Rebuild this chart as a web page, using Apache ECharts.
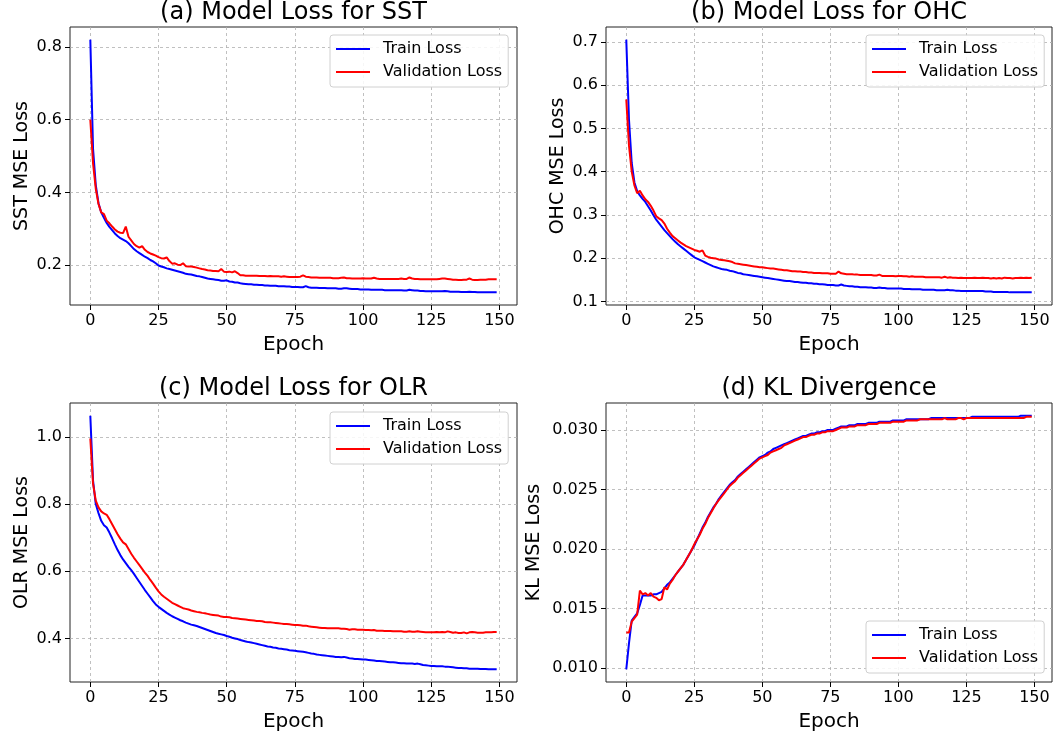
<!DOCTYPE html>
<html>
<head>
<meta charset="utf-8">
<script src="https://cdn.jsdelivr.net/npm/echarts@6/dist/echarts.min.js"></script>
<style>
  html, body { margin: 0; padding: 0; background: #fff; }
  #chart { width: 1057px; height: 734px; }
</style>
</head>
<body>
<div id="chart"></div>
<script>
const epochTicks = [0, 25, 50, 75, 100, 125, 150];

const sstTrain = [
  0.820, 0.520, 0.420, 0.370, 0.345, 0.330, 0.316, 0.305, 0.296, 0.287,
  0.280, 0.274, 0.270, 0.266, 0.260, 0.252, 0.244, 0.238, 0.233, 0.228,
  0.223, 0.219, 0.214, 0.210, 0.205, 0.199, 0.196, 0.194, 0.191, 0.189,
  0.187, 0.185, 0.183, 0.181, 0.179, 0.176, 0.175, 0.174, 0.172, 0.170,
  0.169, 0.167, 0.165, 0.163, 0.162, 0.161, 0.160, 0.159, 0.157, 0.157,
  0.158, 0.155, 0.154, 0.152, 0.152, 0.150, 0.149, 0.148, 0.147, 0.147,
  0.146, 0.146, 0.145, 0.145, 0.144, 0.144, 0.143, 0.143, 0.143, 0.142,
  0.142, 0.142, 0.141, 0.141, 0.140, 0.140, 0.140, 0.139, 0.139, 0.142,
  0.139, 0.138, 0.138, 0.138, 0.137, 0.137, 0.137, 0.136, 0.136, 0.136,
  0.136, 0.135, 0.135, 0.136, 0.136, 0.135, 0.134, 0.134, 0.134, 0.133,
  0.133, 0.133, 0.133, 0.132, 0.132, 0.132, 0.132, 0.132, 0.131, 0.131,
  0.131, 0.131, 0.131, 0.131, 0.131, 0.130, 0.130, 0.132, 0.131, 0.130,
  0.130, 0.129, 0.129, 0.128, 0.128, 0.128, 0.128, 0.128, 0.128, 0.128,
  0.129, 0.128, 0.127, 0.127, 0.127, 0.127, 0.126, 0.126, 0.126, 0.127,
  0.126, 0.126, 0.125, 0.125, 0.125, 0.125, 0.125, 0.125, 0.125, 0.125,
];
const sstVal = [
  0.600, 0.480, 0.410, 0.368, 0.345, 0.340, 0.322, 0.315, 0.306, 0.298,
  0.292, 0.289, 0.288, 0.306, 0.278, 0.268, 0.258, 0.252, 0.248, 0.252,
  0.242, 0.236, 0.232, 0.229, 0.226, 0.222, 0.219, 0.218, 0.221, 0.211,
  0.204, 0.205, 0.201, 0.200, 0.205, 0.197, 0.196, 0.196, 0.195, 0.193,
  0.191, 0.189, 0.188, 0.186, 0.185, 0.184, 0.184, 0.183, 0.189, 0.182,
  0.181, 0.182, 0.180, 0.183, 0.178, 0.172, 0.172, 0.171, 0.171, 0.171,
  0.171, 0.171, 0.170, 0.170, 0.170, 0.169, 0.170, 0.169, 0.169, 0.169,
  0.168, 0.169, 0.168, 0.167, 0.167, 0.167, 0.167, 0.168, 0.172, 0.168,
  0.167, 0.166, 0.166, 0.166, 0.165, 0.165, 0.165, 0.165, 0.165, 0.164,
  0.164, 0.164, 0.165, 0.166, 0.164, 0.164, 0.163, 0.163, 0.163, 0.163,
  0.164, 0.163, 0.163, 0.163, 0.165, 0.163, 0.162, 0.162, 0.162, 0.162,
  0.162, 0.162, 0.162, 0.162, 0.163, 0.162, 0.162, 0.166, 0.163, 0.162,
  0.162, 0.161, 0.161, 0.161, 0.161, 0.161, 0.161, 0.161, 0.162, 0.163,
  0.163, 0.162, 0.161, 0.160, 0.160, 0.159, 0.159, 0.160, 0.160, 0.163,
  0.160, 0.159, 0.159, 0.160, 0.160, 0.160, 0.161, 0.161, 0.161, 0.161,
];

const ohcTrain = [
  0.705, 0.520, 0.420, 0.375, 0.355, 0.345, 0.337, 0.330, 0.320, 0.310,
  0.299, 0.289, 0.281, 0.273, 0.265, 0.258, 0.251, 0.244, 0.238, 0.232,
  0.227, 0.222, 0.217, 0.212, 0.207, 0.202, 0.199, 0.196, 0.193, 0.190,
  0.187, 0.184, 0.181, 0.179, 0.177, 0.175, 0.174, 0.173, 0.171, 0.170,
  0.168, 0.166, 0.165, 0.163, 0.162, 0.161, 0.160, 0.159, 0.158, 0.157,
  0.156, 0.155, 0.154, 0.153, 0.152, 0.151, 0.150, 0.149, 0.148, 0.147,
  0.147, 0.146, 0.145, 0.145, 0.144, 0.143, 0.143, 0.142, 0.142, 0.141,
  0.141, 0.140, 0.140, 0.139, 0.138, 0.138, 0.138, 0.137, 0.137, 0.139,
  0.137, 0.136, 0.135, 0.135, 0.134, 0.134, 0.133, 0.133, 0.133, 0.132,
  0.132, 0.131, 0.131, 0.132, 0.131, 0.131, 0.130, 0.130, 0.130, 0.130,
  0.130, 0.130, 0.129, 0.129, 0.129, 0.128, 0.128, 0.128, 0.128, 0.127,
  0.127, 0.127, 0.127, 0.127, 0.126, 0.126, 0.126, 0.126, 0.127, 0.126,
  0.126, 0.125, 0.125, 0.124, 0.124, 0.124, 0.124, 0.124, 0.124, 0.124,
  0.124, 0.124, 0.123, 0.123, 0.123, 0.122, 0.122, 0.122, 0.122, 0.122,
  0.122, 0.121, 0.121, 0.121, 0.121, 0.121, 0.121, 0.121, 0.121, 0.121,
];
const ohcVal = [
  0.567, 0.460, 0.400, 0.368, 0.350, 0.356, 0.345, 0.336, 0.330, 0.321,
  0.310, 0.297, 0.292, 0.288, 0.280, 0.268, 0.259, 0.251, 0.246, 0.241,
  0.236, 0.232, 0.228, 0.225, 0.222, 0.219, 0.217, 0.215, 0.218, 0.206,
  0.203, 0.201, 0.200, 0.199, 0.197, 0.196, 0.195, 0.194, 0.193, 0.191,
  0.188, 0.187, 0.186, 0.185, 0.184, 0.183, 0.182, 0.181, 0.180, 0.179,
  0.179, 0.178, 0.177, 0.176, 0.176, 0.175, 0.174, 0.173, 0.172, 0.172,
  0.171, 0.170, 0.170, 0.169, 0.169, 0.168, 0.168, 0.167, 0.167, 0.166,
  0.166, 0.166, 0.165, 0.165, 0.165, 0.164, 0.164, 0.164, 0.169, 0.165,
  0.164, 0.163, 0.163, 0.163, 0.162, 0.162, 0.161, 0.161, 0.161, 0.161,
  0.161, 0.160, 0.160, 0.162, 0.159, 0.159, 0.159, 0.159, 0.159, 0.158,
  0.159, 0.159, 0.158, 0.158, 0.157, 0.158, 0.157, 0.157, 0.157, 0.157,
  0.156, 0.156, 0.156, 0.156, 0.156, 0.156, 0.155, 0.157, 0.155, 0.156,
  0.155, 0.155, 0.154, 0.155, 0.154, 0.154, 0.154, 0.154, 0.155, 0.154,
  0.154, 0.155, 0.154, 0.154, 0.153, 0.154, 0.153, 0.154, 0.153, 0.155,
  0.154, 0.154, 0.153, 0.154, 0.154, 0.155, 0.154, 0.155, 0.154, 0.155,
];

const olrTrain = [
  1.063, 0.870, 0.800, 0.773, 0.750, 0.737, 0.730, 0.715, 0.698, 0.680,
  0.663, 0.648, 0.635, 0.624, 0.613, 0.603, 0.592, 0.580, 0.568, 0.556,
  0.544, 0.533, 0.522, 0.511, 0.501, 0.494, 0.488, 0.482, 0.476, 0.471,
  0.466, 0.462, 0.458, 0.454, 0.451, 0.447, 0.444, 0.441, 0.439, 0.437,
  0.434, 0.431, 0.428, 0.425, 0.422, 0.419, 0.416, 0.414, 0.412, 0.410,
  0.407, 0.405, 0.402, 0.400, 0.398, 0.395, 0.393, 0.391, 0.389, 0.388,
  0.386, 0.384, 0.382, 0.380, 0.378, 0.376, 0.375, 0.373, 0.372, 0.370,
  0.369, 0.368, 0.367, 0.365, 0.364, 0.363, 0.362, 0.361, 0.360, 0.359,
  0.357, 0.355, 0.354, 0.352, 0.351, 0.350, 0.349, 0.348, 0.347, 0.346,
  0.345, 0.345, 0.344, 0.345, 0.343, 0.341, 0.340, 0.339, 0.339, 0.338,
  0.337, 0.337, 0.336, 0.335, 0.334, 0.333, 0.333, 0.332, 0.331, 0.330,
  0.329, 0.329, 0.328, 0.327, 0.326, 0.326, 0.325, 0.325, 0.325, 0.324,
  0.325, 0.323, 0.321, 0.320, 0.319, 0.318, 0.318, 0.317, 0.317, 0.317,
  0.316, 0.316, 0.315, 0.314, 0.313, 0.312, 0.312, 0.311, 0.311, 0.310,
  0.310, 0.310, 0.310, 0.309, 0.309, 0.309, 0.308, 0.308, 0.308, 0.308,
];
const olrVal = [
  0.995, 0.860, 0.810, 0.790, 0.778, 0.772, 0.768, 0.755, 0.740, 0.725,
  0.710, 0.697, 0.686, 0.680, 0.666, 0.652, 0.640, 0.629, 0.618, 0.607,
  0.596, 0.586, 0.574, 0.563, 0.551, 0.540, 0.531, 0.524, 0.518, 0.512,
  0.506, 0.502, 0.498, 0.494, 0.490, 0.488, 0.486, 0.483, 0.481, 0.479,
  0.478, 0.476, 0.475, 0.473, 0.471, 0.470, 0.469, 0.468, 0.465, 0.464,
  0.464, 0.463, 0.461, 0.460, 0.459, 0.458, 0.457, 0.456, 0.455, 0.454,
  0.453, 0.452, 0.452, 0.451, 0.449, 0.448, 0.448, 0.447, 0.446, 0.445,
  0.444, 0.443, 0.443, 0.442, 0.441, 0.440, 0.440, 0.439, 0.438, 0.438,
  0.436, 0.435, 0.434, 0.433, 0.432, 0.431, 0.431, 0.430, 0.430, 0.430,
  0.430, 0.430, 0.429, 0.429, 0.428, 0.426, 0.427, 0.427, 0.426, 0.426,
  0.426, 0.425, 0.425, 0.424, 0.425, 0.423, 0.423, 0.423, 0.422, 0.422,
  0.422, 0.421, 0.421, 0.421, 0.421, 0.420, 0.420, 0.421, 0.420, 0.420,
  0.421, 0.420, 0.419, 0.418, 0.418, 0.418, 0.418, 0.419, 0.418, 0.419,
  0.418, 0.421, 0.419, 0.417, 0.418, 0.416, 0.416, 0.418, 0.415, 0.418,
  0.419, 0.418, 0.417, 0.417, 0.417, 0.418, 0.418, 0.418, 0.419, 0.419,
];

const klTrain = [
  0.0099, 0.0121, 0.0140, 0.0143, 0.0146, 0.0153, 0.0161, 0.0161, 0.0161, 0.0161,
  0.0162, 0.0162, 0.0163, 0.0164, 0.0167, 0.0170, 0.0172, 0.0175, 0.0178, 0.0181,
  0.0184, 0.0187, 0.0191, 0.0195, 0.0199, 0.0203, 0.0208, 0.0213, 0.0218, 0.0222,
  0.0227, 0.0231, 0.0235, 0.0238, 0.0242, 0.0245, 0.0248, 0.0251, 0.0254, 0.0256,
  0.0258, 0.0261, 0.0263, 0.0265, 0.0267, 0.0269, 0.0271, 0.0273, 0.0275, 0.0277,
  0.0278, 0.0279, 0.0281, 0.0282, 0.0284, 0.0285, 0.0286, 0.0287, 0.0288, 0.0289,
  0.0290, 0.0291, 0.0292, 0.0293, 0.0294, 0.0295, 0.0295, 0.0296, 0.0297, 0.0297,
  0.0298, 0.0298, 0.0299, 0.0299, 0.0300, 0.0300, 0.0300, 0.0301, 0.0302, 0.0303,
  0.0303, 0.0303, 0.0304, 0.0304, 0.0304, 0.0305, 0.0305, 0.0305, 0.0305, 0.0306,
  0.0306, 0.0306, 0.0306, 0.0307, 0.0307, 0.0307, 0.0307, 0.0307, 0.0308, 0.0308,
  0.0308, 0.0308, 0.0308, 0.0309, 0.0309, 0.0309, 0.0309, 0.0309, 0.0309, 0.0309,
  0.0309, 0.0309, 0.0310, 0.0310, 0.0310, 0.0310, 0.0310, 0.0310, 0.0310, 0.0310,
  0.0310, 0.0310, 0.0310, 0.0310, 0.0310, 0.0310, 0.0310, 0.0311, 0.0311, 0.0311,
  0.0311, 0.0311, 0.0311, 0.0311, 0.0311, 0.0311, 0.0311, 0.0311, 0.0311, 0.0311,
  0.0311, 0.0311, 0.0311, 0.0311, 0.0311, 0.0312, 0.0312, 0.0312, 0.0312, 0.0312,
];
const klVal = [
  0.0130, 0.0130, 0.0139, 0.0142, 0.0145, 0.0165, 0.0162, 0.0163, 0.0161, 0.0163,
  0.0160, 0.0159, 0.0157, 0.0158, 0.0168, 0.0166, 0.0171, 0.0174, 0.0178, 0.0181,
  0.0184, 0.0187, 0.0191, 0.0195, 0.0199, 0.0204, 0.0208, 0.0212, 0.0217, 0.0221,
  0.0226, 0.0230, 0.0234, 0.0238, 0.0241, 0.0244, 0.0247, 0.0250, 0.0253, 0.0255,
  0.0257, 0.0260, 0.0262, 0.0264, 0.0266, 0.0268, 0.0270, 0.0272, 0.0274, 0.0276,
  0.0277, 0.0278, 0.0279, 0.0281, 0.0282, 0.0283, 0.0284, 0.0285, 0.0287, 0.0288,
  0.0289, 0.0290, 0.0291, 0.0292, 0.0293, 0.0294, 0.0294, 0.0295, 0.0296, 0.0296,
  0.0297, 0.0297, 0.0298, 0.0298, 0.0299, 0.0299, 0.0299, 0.0300, 0.0301, 0.0302,
  0.0302, 0.0302, 0.0303, 0.0303, 0.0303, 0.0304, 0.0304, 0.0304, 0.0304, 0.0305,
  0.0305, 0.0305, 0.0305, 0.0306, 0.0306, 0.0306, 0.0306, 0.0306, 0.0307, 0.0307,
  0.0307, 0.0307, 0.0307, 0.0308, 0.0308, 0.0308, 0.0308, 0.0308, 0.0309, 0.0309,
  0.0309, 0.0309, 0.0309, 0.0309, 0.0309, 0.0309, 0.0309, 0.0310, 0.0309, 0.0309,
  0.0309, 0.0309, 0.0310, 0.0310, 0.0309, 0.0310, 0.0310, 0.0310, 0.0310, 0.0310,
  0.0310, 0.0310, 0.0310, 0.0310, 0.0310, 0.0310, 0.0310, 0.0310, 0.0310, 0.0310,
  0.0310, 0.0310, 0.0310, 0.0310, 0.0310, 0.0310, 0.0310, 0.0311, 0.0311, 0.0311,
];

const panels = [
  { title: '(a) Model Loss for SST', yName: 'SST MSE Loss', train: sstTrain, val: sstVal,
    yTicks: [0.2, 0.4, 0.6, 0.8], digits: 1, yGap: 38, titleTop: 1,
    grid: { left: 70, top: 27, width: 447, height: 278 }, legend: { left: 330, top: 35 } },
  { title: '(b) Model Loss for OHC', yName: 'OHC MSE Loss', train: ohcTrain, val: ohcVal,
    yTicks: [0.1, 0.2, 0.3, 0.4, 0.5, 0.6, 0.7], digits: 1, yGap: 38, titleTop: 1,
    grid: { left: 606, top: 27, width: 446, height: 278 }, legend: { left: 866, top: 35 } },
  { title: '(c) Model Loss for OLR', yName: 'OLR MSE Loss', train: olrTrain, val: olrVal,
    yTicks: [0.4, 0.6, 0.8, 1.0], digits: 1, yGap: 38, titleTop: 377,
    grid: { left: 70, top: 403, width: 447, height: 279 }, legend: { left: 330, top: 412 } },
  { title: '(d) KL Divergence', yName: 'KL MSE Loss', train: klTrain, val: klVal,
    yTicks: [0.010, 0.015, 0.020, 0.025, 0.030], digits: 3, yGap: 62, titleTop: 377,
    grid: { left: 606, top: 403, width: 446, height: 279 }, legend: { left: 866, top: 621 } },
];

const FONT = 'DejaVu Sans';
const gridLine = { show: true, lineStyle: { color: '#b0b0b0', width: 0.8, type: [3, 3] } };
const tickStyle = { length: 5, lineStyle: { color: '#000', width: 1 } };

function toPoints(values) {
  return values.map((v, i) => [i, v]);
}

function paddedRange(values) {
  const lo = Math.min(...values);
  const hi = Math.max(...values);
  const pad = (hi - lo) * 0.05;
  return [lo - pad, hi + pad];
}

const option = {
  animation: false,
  backgroundColor: '#fff',
  textStyle: { fontFamily: FONT },
  title: [],
  legend: [],
  grid: [],
  xAxis: [],
  yAxis: [],
  series: [],
};

panels.forEach((p, i) => {
  const all = p.train.concat(p.val);
  const [yMin, yMax] = paddedRange(all);
  const g = p.grid;

  option.title.push({
    text: p.title,
    left: g.left + g.width / 2,
    top: p.titleTop,
    padding: 0,
    textAlign: 'center',
    textStyle: { fontFamily: FONT, fontSize: 24, fontWeight: 'normal', color: '#000' },
  });

  option.grid.push({
    ...g,
    show: true,
    borderColor: '#222',
    borderWidth: 1,
    backgroundColor: 'transparent',
  });

  option.xAxis.push({
    type: 'value',
    gridIndex: i,
    min: -7.45,
    max: 156.45,
    name: 'Epoch',
    nameLocation: 'middle',
    nameGap: 30,
    nameTextStyle: { fontFamily: FONT, fontSize: 20, color: '#000' },
    axisLine: { show: false, onZero: false },
    axisTick: { ...tickStyle, customValues: epochTicks },
    axisLabel: { customValues: epochTicks, fontFamily: FONT, fontSize: 16, color: '#000', margin: 8 },
    splitLine: gridLine,
  });

  option.yAxis.push({
    type: 'value',
    gridIndex: i,
    min: yMin,
    max: yMax,
    name: p.yName,
    nameLocation: 'middle',
    nameGap: p.yGap,
    nameTextStyle: { fontFamily: FONT, fontSize: 19, color: '#000' },
    axisLine: { show: false, onZero: false },
    axisTick: { ...tickStyle, customValues: p.yTicks },
    axisLabel: {
      customValues: p.yTicks,
      fontFamily: FONT, fontSize: 16, color: '#000', margin: 8,
      formatter: (v) => v.toFixed(p.digits),
    },
    splitLine: gridLine,
  });

  option.legend.push({
    data: ['Train Loss', 'Validation Loss'],
    orient: 'vertical',
    left: p.legend.left,
    top: p.legend.top,
    padding: [5, 6, 6, 6],
    itemGap: 5,
    itemWidth: 34,
    itemHeight: 2,
    icon: 'rect',
    borderColor: '#d0d0d0',
    borderWidth: 1,
    borderRadius: 3,
    backgroundColor: 'rgba(255,255,255,0.85)',
    selectedMode: false,
    textStyle: { fontFamily: FONT, fontSize: 16, color: '#000', lineHeight: 18, padding: [0, 0, 0, 8] },
  });

  [['Train Loss', p.train, '#0000ff'], ['Validation Loss', p.val, '#ff0000']].forEach(([name, data, color]) => {
    option.series.push({
      name,
      type: 'line',
      xAxisIndex: i,
      yAxisIndex: i,
      data: toPoints(data),
      symbol: 'none',
      color,
      itemStyle: { color },
      lineStyle: { color, width: 2 },
    });
  });
});

const chart = echarts.init(document.getElementById('chart'), null, { renderer: 'canvas' });
chart.setOption(option);
</script>
</body>
</html>
